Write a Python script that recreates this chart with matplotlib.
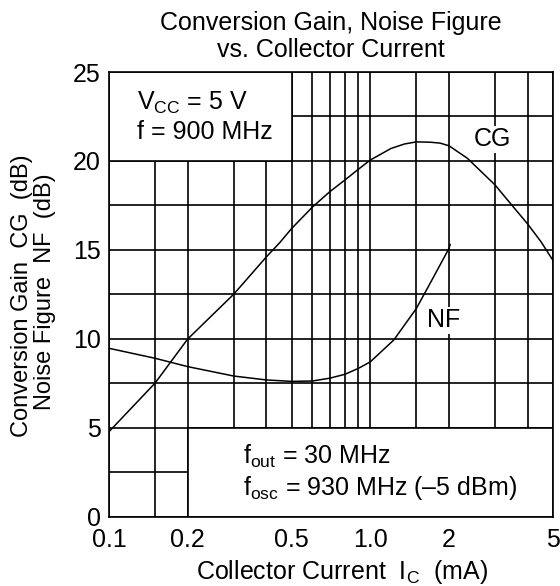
import matplotlib
matplotlib.use("Agg")
import matplotlib.pyplot as plt
from matplotlib.patches import Rectangle
from matplotlib.ticker import NullFormatter

plt.rcParams['font.family'] = ['Liberation Sans', 'DejaVu Sans']
plt.rcParams['mathtext.fontset'] = 'custom'
plt.rcParams['mathtext.rm'] = 'Liberation Sans'
plt.rcParams['mathtext.it'] = 'Liberation Sans:italic'

# conversion gain vs collector current
cg_ic = [0.1, 0.15, 0.2, 0.3, 0.4, 0.45, 0.5, 0.6, 0.7, 0.8, 0.9, 1.0, 1.2,
         1.35, 1.5, 1.7, 1.85, 2.0, 2.35, 3.0, 3.35, 4.0, 4.5, 5.0]
cg_db = [4.77, 7.5, 9.98, 12.5, 14.6, 15.4, 16.2, 17.4, 18.27, 18.93, 19.53, 20.05, 20.7,
         20.95, 21.07, 21.05, 21.0, 20.85, 20.15, 18.65, 17.8, 16.45, 15.45, 14.4]

# noise figure vs collector current
nf_ic = [0.1, 0.15, 0.2, 0.3, 0.4, 0.5, 0.6, 0.7, 0.8, 0.9, 1.0, 1.23, 1.5, 1.75, 2.0, 2.02]
nf_db = [9.46, 8.9, 8.43, 7.9, 7.68, 7.6, 7.62, 7.78, 8.0, 8.33, 8.7, 9.93, 11.7, 13.5, 15.08, 15.3]

x_major = [0.1, 0.2, 0.5, 1.0, 2, 5]
x_labels = ["0.1", "0.2", "0.5", "1.0", "2", "5"]
x_minor = [0.15, 0.3, 0.4, 0.6, 0.7, 0.8, 0.9, 1.5, 3, 4]
y_major = [0, 5, 10, 15, 20, 25]
y_minor = [2.5, 7.5, 12.5, 17.5, 22.5]

FS = 18
W, H = 560, 586

fig = plt.figure(figsize=(W / 100, H / 100), dpi=100)
ax = fig.add_axes([109 / W, 1 - 516.5 / H, (553 - 109) / W, (516.5 - 72) / H])
ax.set_xscale('log')
ax.set_xlim(0.1, 5)
ax.set_ylim(0, 25)

ax.set_xticks(x_major, x_labels)
ax.set_xticks(x_minor, minor=True)
ax.xaxis.set_minor_formatter(NullFormatter())
ax.set_yticks(y_major)
ax.set_yticks(y_minor, minor=True)

ax.set_axisbelow(True)
ax.grid(True, which='both', color='black', lw=1.2)
ax.tick_params(which='both', length=0, labelsize=FS)
ax.tick_params(axis='x', pad=8)
ax.tick_params(axis='y', pad=6)
for s in ax.spines.values():
    s.set_linewidth(1.2)

# blank areas that hold the notes
ax.add_patch(Rectangle((0.1, 20), 0.4, 5, facecolor='white', edgecolor='black', lw=1.2, zorder=1))
ax.add_patch(Rectangle((0.2, 0), 4.8, 5, facecolor='white', edgecolor='black', lw=1.2, zorder=1))

ax.plot(cg_ic, cg_db, color='black', lw=1.1, zorder=3)
ax.plot(nf_ic, nf_db, color='black', lw=1.1, zorder=3)

box = dict(facecolor='white', edgecolor='none', pad=1)
ax.text(2.93, 21.23, "CG", fontsize=FS, ha='center', va='center', bbox=box, zorder=4)
ax.text(1.9, 11.05, "NF", fontsize=FS, ha='center', va='center', bbox=box, zorder=4)

ax.text(0.128, 22.86, r"V$_{\mathrm{CC}}$ = 5 V", fontsize=FS, va='baseline')
ax.text(0.128, 21.23, "f = 900 MHz", fontsize=FS, va='baseline')
ax.text(0.326, 2.99, r"f$_{\mathrm{out}}$ = 30 MHz", fontsize=FS, va='baseline')
ax.text(0.326, 1.21, r"f$_{\mathrm{osc}}$ = 930 MHz (–5 dBm)", fontsize=FS, va='baseline')

fig.text(331 / W, 1 - 30 / H, "Conversion Gain, Noise Figure", fontsize=FS, ha='center', va='baseline')
fig.text(331 / W, 1 - 57 / H, "vs. Collector Current", fontsize=FS, ha='center', va='baseline')

fig.text(342 / W, 1 - 572 / H, r"Collector Current  I$_{\mathrm{C}}$  (mA)", fontsize=FS,
         ha='center', va='center')
# two-line y label, drawn as two texts so the spacing can match
fig.text(22 / W, 1 - 296 / H, "Conversion Gain  CG  (dB)", fontsize=17, rotation=90,
         ha='center', va='center')
fig.text(45 / W, 1 - 292 / H, "Noise Figure  NF  (dB)", fontsize=17, rotation=90,
         ha='center', va='center')

fig.savefig("out.png", dpi=100)
